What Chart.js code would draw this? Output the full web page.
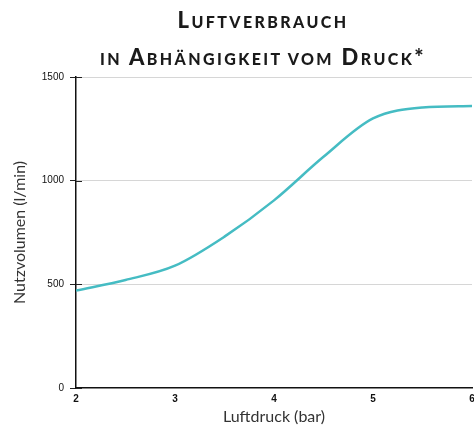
<!DOCTYPE html>
<html>
<head>
<meta charset="utf-8">
<script src="https://cdn.jsdelivr.net/npm/chart.js@4/dist/chart.umd.min.js"></script>
<style>
  html, body { margin: 0; padding: 0; background: #fff; }
  #wrap { position: relative; width: 474px; height: 430px; }
  #title {
    position: absolute; left: 52px; right: 0; top: 2px;
    text-align: center; font-family: Lato, sans-serif; font-weight: 900;
    font-size: 22px; line-height: 35px; color: #1a1a1a;
    letter-spacing: 2.4px; white-space: nowrap;
  }
  #title .sc { font-size: 16px; text-transform: uppercase; }
  canvas { position: absolute; left: 0; top: 0; }
</style>
</head>
<body>
<div id="wrap">
  <canvas id="c" width="474" height="430"></canvas>
  <div id="title">L<span class="sc">uftverbrauch</span><br><span class="sc">in</span> A<span class="sc">bhängigkeit vom</span> D<span class="sc">ruck</span>*</div>
</div>
<script>
const pressureBar = [2, 2.5, 3, 3.5, 4, 4.5, 5, 5.5, 6];
const flowLmin = [470, 521, 590, 730, 905, 1115, 1300, 1353, 1360];
const yTickValues = [0, 500, 1000, 1500];
const xTickValues = [2, 3, 4, 5, 6];
const xTitle = 'Luftdruck (bar)';
const yTitle = 'Nutzvolumen (l/min)';

const innerTicks = {
  id: 'innerTicks',
  afterDraw(chart) {
    const s = chart.scales.y;
    const ctx = chart.ctx;
    ctx.save();
    ctx.strokeStyle = '#222';
    ctx.lineWidth = 1;
    s.ticks.forEach(t => {
      const y = Math.round(s.getPixelForValue(t.value)) + 0.5;
      ctx.beginPath();
      ctx.moveTo(s.right, y);
      ctx.lineTo(s.right + 6, y);
      ctx.stroke();
    });
    ctx.restore();
  }
};

new Chart(document.getElementById('c'), {
  type: 'line',
  data: {
    datasets: [{
      data: pressureBar.map((x, i) => ({ x, y: flowLmin[i] })),
      borderColor: '#45bcc3',
      borderWidth: 2.5,
      pointRadius: 0,
      cubicInterpolationMode: 'monotone',
      fill: false
    }]
  },
  options: {
    responsive: false,
    animation: false,
    layout: { padding: { top: 77, right: 2, left: 0, bottom: 0 } },
    plugins: { legend: { display: false }, tooltip: { enabled: false }, title: { display: false } },
    scales: {
      x: {
        type: 'linear', min: 2, max: 6,
        afterBuildTicks: s => { s.ticks = xTickValues.map(v => ({ value: v })); },
        ticks: { color: '#111', font: { family: 'Liberation Sans', size: 10, weight: 'bold' }, padding: 5, callback: v => String(v) },
        grid: { drawOnChartArea: false, drawTicks: false },
        border: { color: '#111', width: 1.5 },
        title: { display: true, text: xTitle, color: '#333', font: { family: 'Lato', size: 16 }, padding: { top: 2, bottom: 4 } },
        afterFit: s => { s.height = 42; s.paddingRight = 0; s.paddingLeft = 0; }
      },
      y: {
        min: 0, max: 1500,
        afterBuildTicks: s => { s.ticks = yTickValues.map(v => ({ value: v })); },
        ticks: { color: '#111', font: { family: 'Liberation Sans', size: 10 }, padding: 6, callback: v => String(v) },
        grid: {
          color: ctx => (ctx.tick && ctx.tick.value === 0) ? 'rgba(0,0,0,0)' : '#d6d6d6',
          lineWidth: 1, tickColor: '#222', tickLength: 6
        },
        border: { color: '#111', width: 1.5 },
        title: { display: true, text: yTitle, color: '#333', font: { family: 'Lato', size: 16 }, padding: { top: 10, bottom: 2 } },
        afterFit: s => { s.width = 76; s.paddingTop = 0; s.paddingBottom = 0; }
      }
    }
  },
  plugins: [innerTicks]
});
</script>
</body>
</html>
